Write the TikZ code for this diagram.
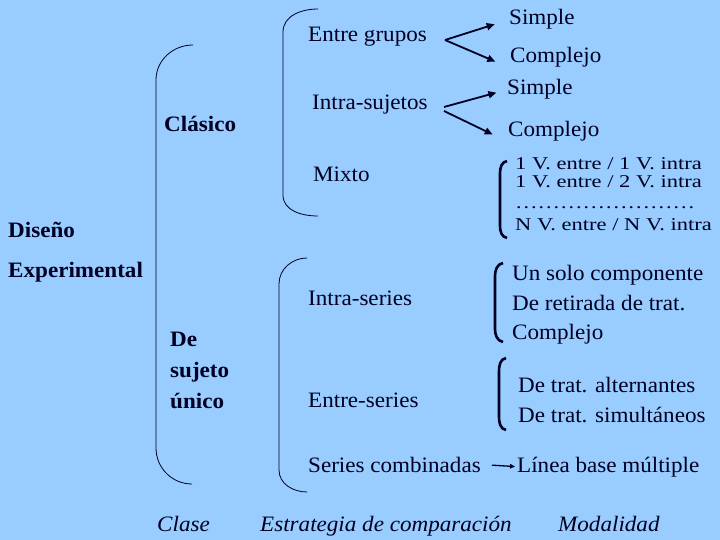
\documentclass[tikz,border=0pt]{standalone}
\usepackage{fontspec}
\setmainfont{Liberation Serif}[FakeStretch=1.05]
\newfontfamily\widefam{Liberation Serif}[FakeStretch=1.25]
\usetikzlibrary{arrows.meta}
\definecolor{bgblue}{HTML}{99CCFF}
\definecolor{ink}{HTML}{000022}

\begin{document}
\begin{tikzpicture}[x=1pt,y=-1pt,
    txt/.style={anchor=base west,inner sep=0pt,text=ink,font=\fontsize{22}{24}\selectfont},
    boldtxt/.style={txt,font=\fontsize{22}{24}\selectfont\bfseries},
    headtxt/.style={txt,font=\fontsize{22}{24}\selectfont\itshape},
    smalltxt/.style={txt,font=\widefam\fontsize{18}{18}\selectfont},
    brace/.style={draw=ink,line width=0.8pt},
    thickbr/.style={draw=ink,line width=2.6pt},
    arr/.style={draw=ink,line width=1.8pt,-{Triangle[length=8pt,width=7pt]}},
    thinarr/.style={draw=ink,line width=1.3pt,-{Triangle[length=5pt,width=4.5pt]}}]
  \fill[bgblue] (0,0) rectangle (720,540);

  % clase
  \node[boldtxt] (diseno) at (8,237) {Diseño};
  \node[boldtxt] (exper) at (8,277) {Experimental};
  \node[boldtxt] (clasico) at (164,132) {Clásico};
  \node[boldtxt] (de) at (170,346) {De};
  \node[boldtxt] (sujeto) at (170,377) {sujeto};
  \node[boldtxt] (unico) at (170,408) {único};
  \draw[brace] (193,45) to[out=180,in=90] (156,80) -- (156,448) to[out=-90,in=180] (192,484);

  % estrategia
  \node[txt] (entre) at (308,42) {Entre grupos};
  \node[txt] (intra) at (312,110) {Intra-sujetos};
  \node[txt] (mixto) at (313,182) {Mixto};
  \draw[brace] (318,9) to[out=180,in=90] (283,32) -- (283,195) to[out=-90,in=180] (318,216);
  \node[txt] (iseries) at (308,305) {Intra-series};
  \node[txt] (eseries) at (308,407) {Entre-series};
  \node[txt] (combin) at (308,472) {Series combinadas};
  \draw[brace] (307,258) to[out=180,in=90] (279,284) -- (279,470) to[out=-90,in=180] (307,492);

  % modalidad
  \node[txt] (simpleA) at (509,25) {Simple};
  \node[txt] (complejoA) at (510,63) {Complejo};
  \node[txt] (simpleB) at (507,95) {Simple};
  \node[txt] (complejoB) at (508,137) {Complejo};
  \coordinate (forkA) at (445,40);
  \coordinate (forkB) at (444,107);
  \coordinate (forkC) at (444,111);
  \draw[arr,shorten >=15pt] (forkA) -- (simpleA.west);
  \draw[arr,shorten >=16pt] (forkA) -- (complejoA.south west);
  \draw[arr,shorten >=11pt] (forkB) -- (simpleB.west);
  \draw[arr,shorten >=17pt] (forkC) -- (complejoB.south west);

  \node[smalltxt] (mixA) at (515,170) {1 V. entre / 1 V. intra};
  \node[smalltxt] (mixB) at (515,188) {1 V. entre / 2 V. intra};
  \node[smalltxt] (mixC) at (515,208) {……………………};
  \node[smalltxt] (mixD) at (515,230) {N V. entre / N V. intra};
  \draw[thickbr] (507,161) to[out=190,in=90] (500,173) -- (500,226) to[out=-90,in=170] (507,238);

  \node[txt] (solo) at (512,280) {Un solo componente};
  \node[txt] (retir) at (512,310) {De retirada de trat.};
  \node[txt] (complejoC) at (512,339) {Complejo};
  \draw[thickbr] (503,263) to[out=190,in=90] (495,276) -- (495,329) to[out=-90,in=170] (503,342);

  \node[txt] (altern) at (518,392) {De trat. alternantes};
  \node[txt] (simult) at (518,422) {De trat. simultáneos};
  \draw[thickbr] (506,358) to[out=190,in=90] (499,371) -- (499,417) to[out=-90,in=170] (506,430);

  \node[txt] (linea) at (517,472) {Línea base múltiple};
  \draw[thinarr,shorten <=11pt,shorten >=2pt] (combin.east) -- (linea.west);

  % encabezados
  \node[headtxt] (clase) at (157,531) {Clase};
  \node[headtxt] (estrat) at (260,531) {Estrategia de comparación};
  \node[headtxt] (modal) at (558,531) {Modalidad};
\end{tikzpicture}
\end{document}
